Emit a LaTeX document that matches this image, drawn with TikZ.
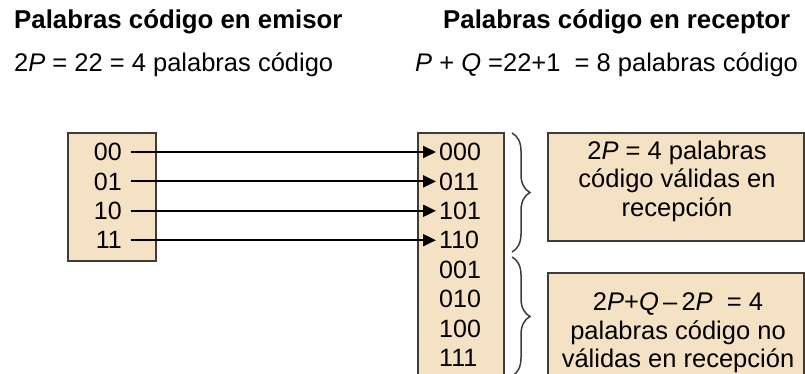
\documentclass[tikz,border=0pt]{standalone}
\usepackage{fontspec}
\setmainfont{Liberation Sans}
\usepackage{tikz}
\usetikzlibrary{arrows.meta,decorations.pathreplacing,positioning,calc}
\definecolor{wheat}{RGB}{245,225,195}
\definecolor{edge}{RGB}{60,60,60}
\begin{document}
\begin{tikzpicture}[x=1pt,y=-1pt,
  codebox/.style={draw=edge, line width=1.8pt, fill=wheat},
  bits/.style={inner sep=0pt, font=\fontsize{25}{29}\selectfont},
  txt/.style={inner sep=0pt, font=\fontsize{25.5}{28.5}\selectfont},
  ttl/.style={inner sep=0pt, font=\fontsize{25.8}{29}\selectfont\bfseries},
  link/.style={-{Triangle[length=13pt,width=12pt]}, line width=2pt, shorten <=9pt, shorten >=3pt},
  llave/.style={decorate, decoration={brace, amplitude=18pt}, line width=1.5pt, draw=edge}]
\useasboundingbox (0,0) rectangle (805,374);
\clip (0,0) rectangle (805,374);
\node[ttl, anchor=base west] (temisor) at (14,29) {Palabras código en emisor};
\node[ttl, anchor=base west] (treceptor) at (443,29) {Palabras código en receptor};
\node[txt, anchor=base west] (nemisor) at (14,72) {2\textit{P} = 22 = 4 palabras código};
\node[txt, anchor=base west] (nreceptor) at (415,72) {\textit{P} + \textit{Q} =22+1\ \ = 8 palabras código};
\draw[codebox] (68,133) rectangle (156,261);
\draw[codebox] (418,133) rectangle (504,400);
\draw[codebox] (548,133) rectangle (804,241);
\draw[codebox] (548,273) rectangle (804,400);
\foreach \b [count=\i] in {00,01,10,11}
  \node[bits, anchor=east] (e\b) at (122,{152+29.4*(\i-1)}) {\b};
\foreach \b [count=\i] in {000,011,101,110,001,010,100,111}
  \node[bits, anchor=west] (r\b) at (439,{152+29.4*(\i-1)}) {\b};
\foreach \a/\b in {00/000,01/011,10/101,11/110}
  \draw[link] (e\a) -- (r\b);
\draw[llave] (512,133) -- (512,252);
\draw[llave] (512,257) -- (512,376);
\node[txt, align=center] (validas) at (677,181) {2\textit{P} = 4 palabras\\código válidas en\\recepción};
\node[txt, align=center] (novalidas) at (678,333) {2\textit{P}+\textit{Q}\,–\,2\textit{P}\ \ = 4\\palabras código no\\válidas en recepción};
\end{tikzpicture}
\end{document}
